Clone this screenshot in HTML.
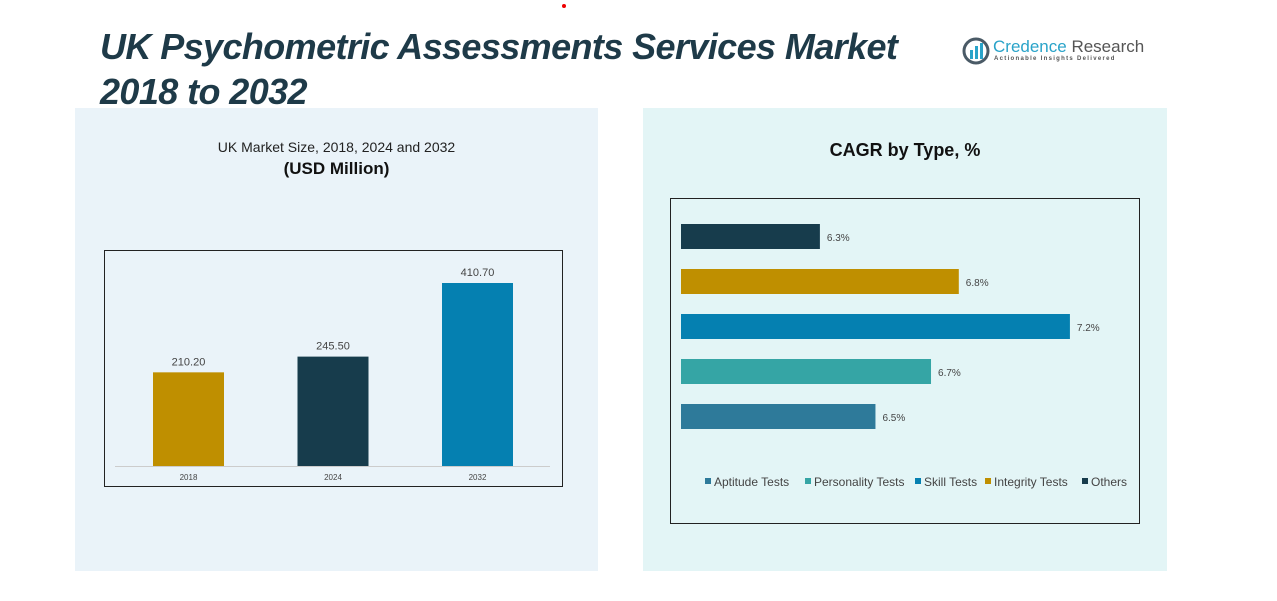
<!DOCTYPE html>
<html><head><meta charset="utf-8"><style>
body{margin:0;width:1277px;height:601px;background:#fff;position:relative;overflow:hidden;font-family:"Liberation Sans",sans-serif}
.abs{position:absolute}
</style></head><body>
<div class="abs" style="left:75px;top:108px;width:523px;height:463px;background:#eaf3f9"></div>
<div class="abs" style="left:643px;top:108px;width:524px;height:463px;background:#e3f5f6"></div>
<div class="abs" style="left:562px;top:4px;width:4px;height:4px;border-radius:2px;background:#e00"></div>
<div class="abs" style="left:100px;top:24px;font-size:36px;letter-spacing:-0.6px;font-weight:bold;font-style:italic;color:#1e3a48;line-height:45px">UK Psychometric Assessments Services Market<br>2018 to 2032</div>
<div class="abs" style="left:962px;top:36px;width:180px;height:30px">
<svg width="30" height="30" style="position:absolute;left:0;top:0"><circle cx="14" cy="15" r="12" fill="none" stroke="#4a5a66" stroke-width="3"/><rect x="8" y="14" width="3" height="9" fill="#29a3c9"/><rect x="13" y="10" width="3" height="13" fill="#29a3c9"/><rect x="18" y="7" width="3" height="16" fill="#29a3c9"/></svg>
<div class="abs" style="left:31px;top:1px;font-size:17px;color:#29a3c9;white-space:nowrap">Credence <span style="color:#555">Research</span></div>
<div class="abs" style="left:32px;top:20px;font-size:6px;letter-spacing:1.3px;color:#555;white-space:nowrap;font-weight:bold">Actionable Insights Delivered</div>
</div>
<div class="abs" style="left:75px;width:523px;top:139px;text-align:center;font-size:14px;color:#222">UK Market Size, 2018, 2024 and 2032</div>
<div class="abs" style="left:75px;width:523px;top:159px;text-align:center;font-size:17px;font-weight:bold;color:#111">(USD Million)</div>
<div class="abs" style="left:643px;width:524px;top:140px;text-align:center;font-size:18px;font-weight:bold;color:#111">CAGR by Type, %</div>
<svg class="abs" style="left:0;top:0" width="1277" height="601" id="charts">
<rect x="104.5" y="250.5" width="458" height="236" fill="none" stroke="#222"/>
<line x1="115" y1="466.5" x2="550" y2="466.5" stroke="#ccc"/>
<rect x="670.5" y="198.5" width="469" height="325" fill="none" stroke="#222"/>
<g id="bars"></g>
</svg>
<script>
const years=["2018","2024","2032"];
const sizes=[210.2,245.5,410.7];
const sizeLabels=["210.20","245.50","410.70"];
const barColors=["#bf8f00","#173c4c","#0580b1"];
const types=["Others","Integrity Tests","Skill Tests","Personality Tests","Aptitude Tests"];
const cagr=[6.3,6.8,7.2,6.7,6.5];
const typeColors=["#173c4c","#bf8f00","#0580b1","#35a5a5","#2e7a9a"];
const legendOrder=["Aptitude Tests","Personality Tests","Skill Tests","Integrity Tests","Others"];
const legendColors=["#2e7a9a","#35a5a5","#0580b1","#bf8f00","#173c4c"];
const NS="http://www.w3.org/2000/svg";
const g=document.getElementById('bars');
function mk(t,a,txt){const e=document.createElementNS(NS,t);for(const k in a)e.setAttribute(k,a[k]);if(txt!==undefined)e.textContent=txt;g.appendChild(e);return e;}
const yBase=466,yScale=v=>v*183/410.7,xCenter=i=>188.5+i*144.5;
years.forEach((y,i)=>{
const h=yScale(sizes[i]);
const r=mk('rect',{x:xCenter(i)-35.5,y:yBase-h,width:71,height:h,fill:barColors[i]});


const l=mk('text',{x:xCenter(i),y:yBase-h-7,'text-anchor':'middle','font-size':11,fill:'#444'},sizeLabels[i]);


const t=mk('text',{x:xCenter(i),y:480,'text-anchor':'middle','font-size':8,fill:'#444'},y);


});
const x0=681,xs=v=>(v-5.8)*277.8,yRow=i=>224+i*45;
types.forEach((t,i)=>{
const w=xs(cagr[i]);
const r=mk('rect',{x:x0,y:yRow(i),width:w,height:25,fill:typeColors[i]});


const l=mk('text',{x:x0+w+7,y:yRow(i)+17,'font-size':10,fill:'#444'},cagr[i].toFixed(1)+'%');


});
let lx=705;
const lw=[100,110,70,97,60];
legendOrder.forEach((n,i)=>{
const s=mk('rect',{x:lx,y:478,width:6,height:6,fill:legendColors[i]});


const t=mk('text',{x:lx+9,y:486,'font-size':12,fill:'#444'},n);


lx+=lw[i];
});
</script>
</body></html>
